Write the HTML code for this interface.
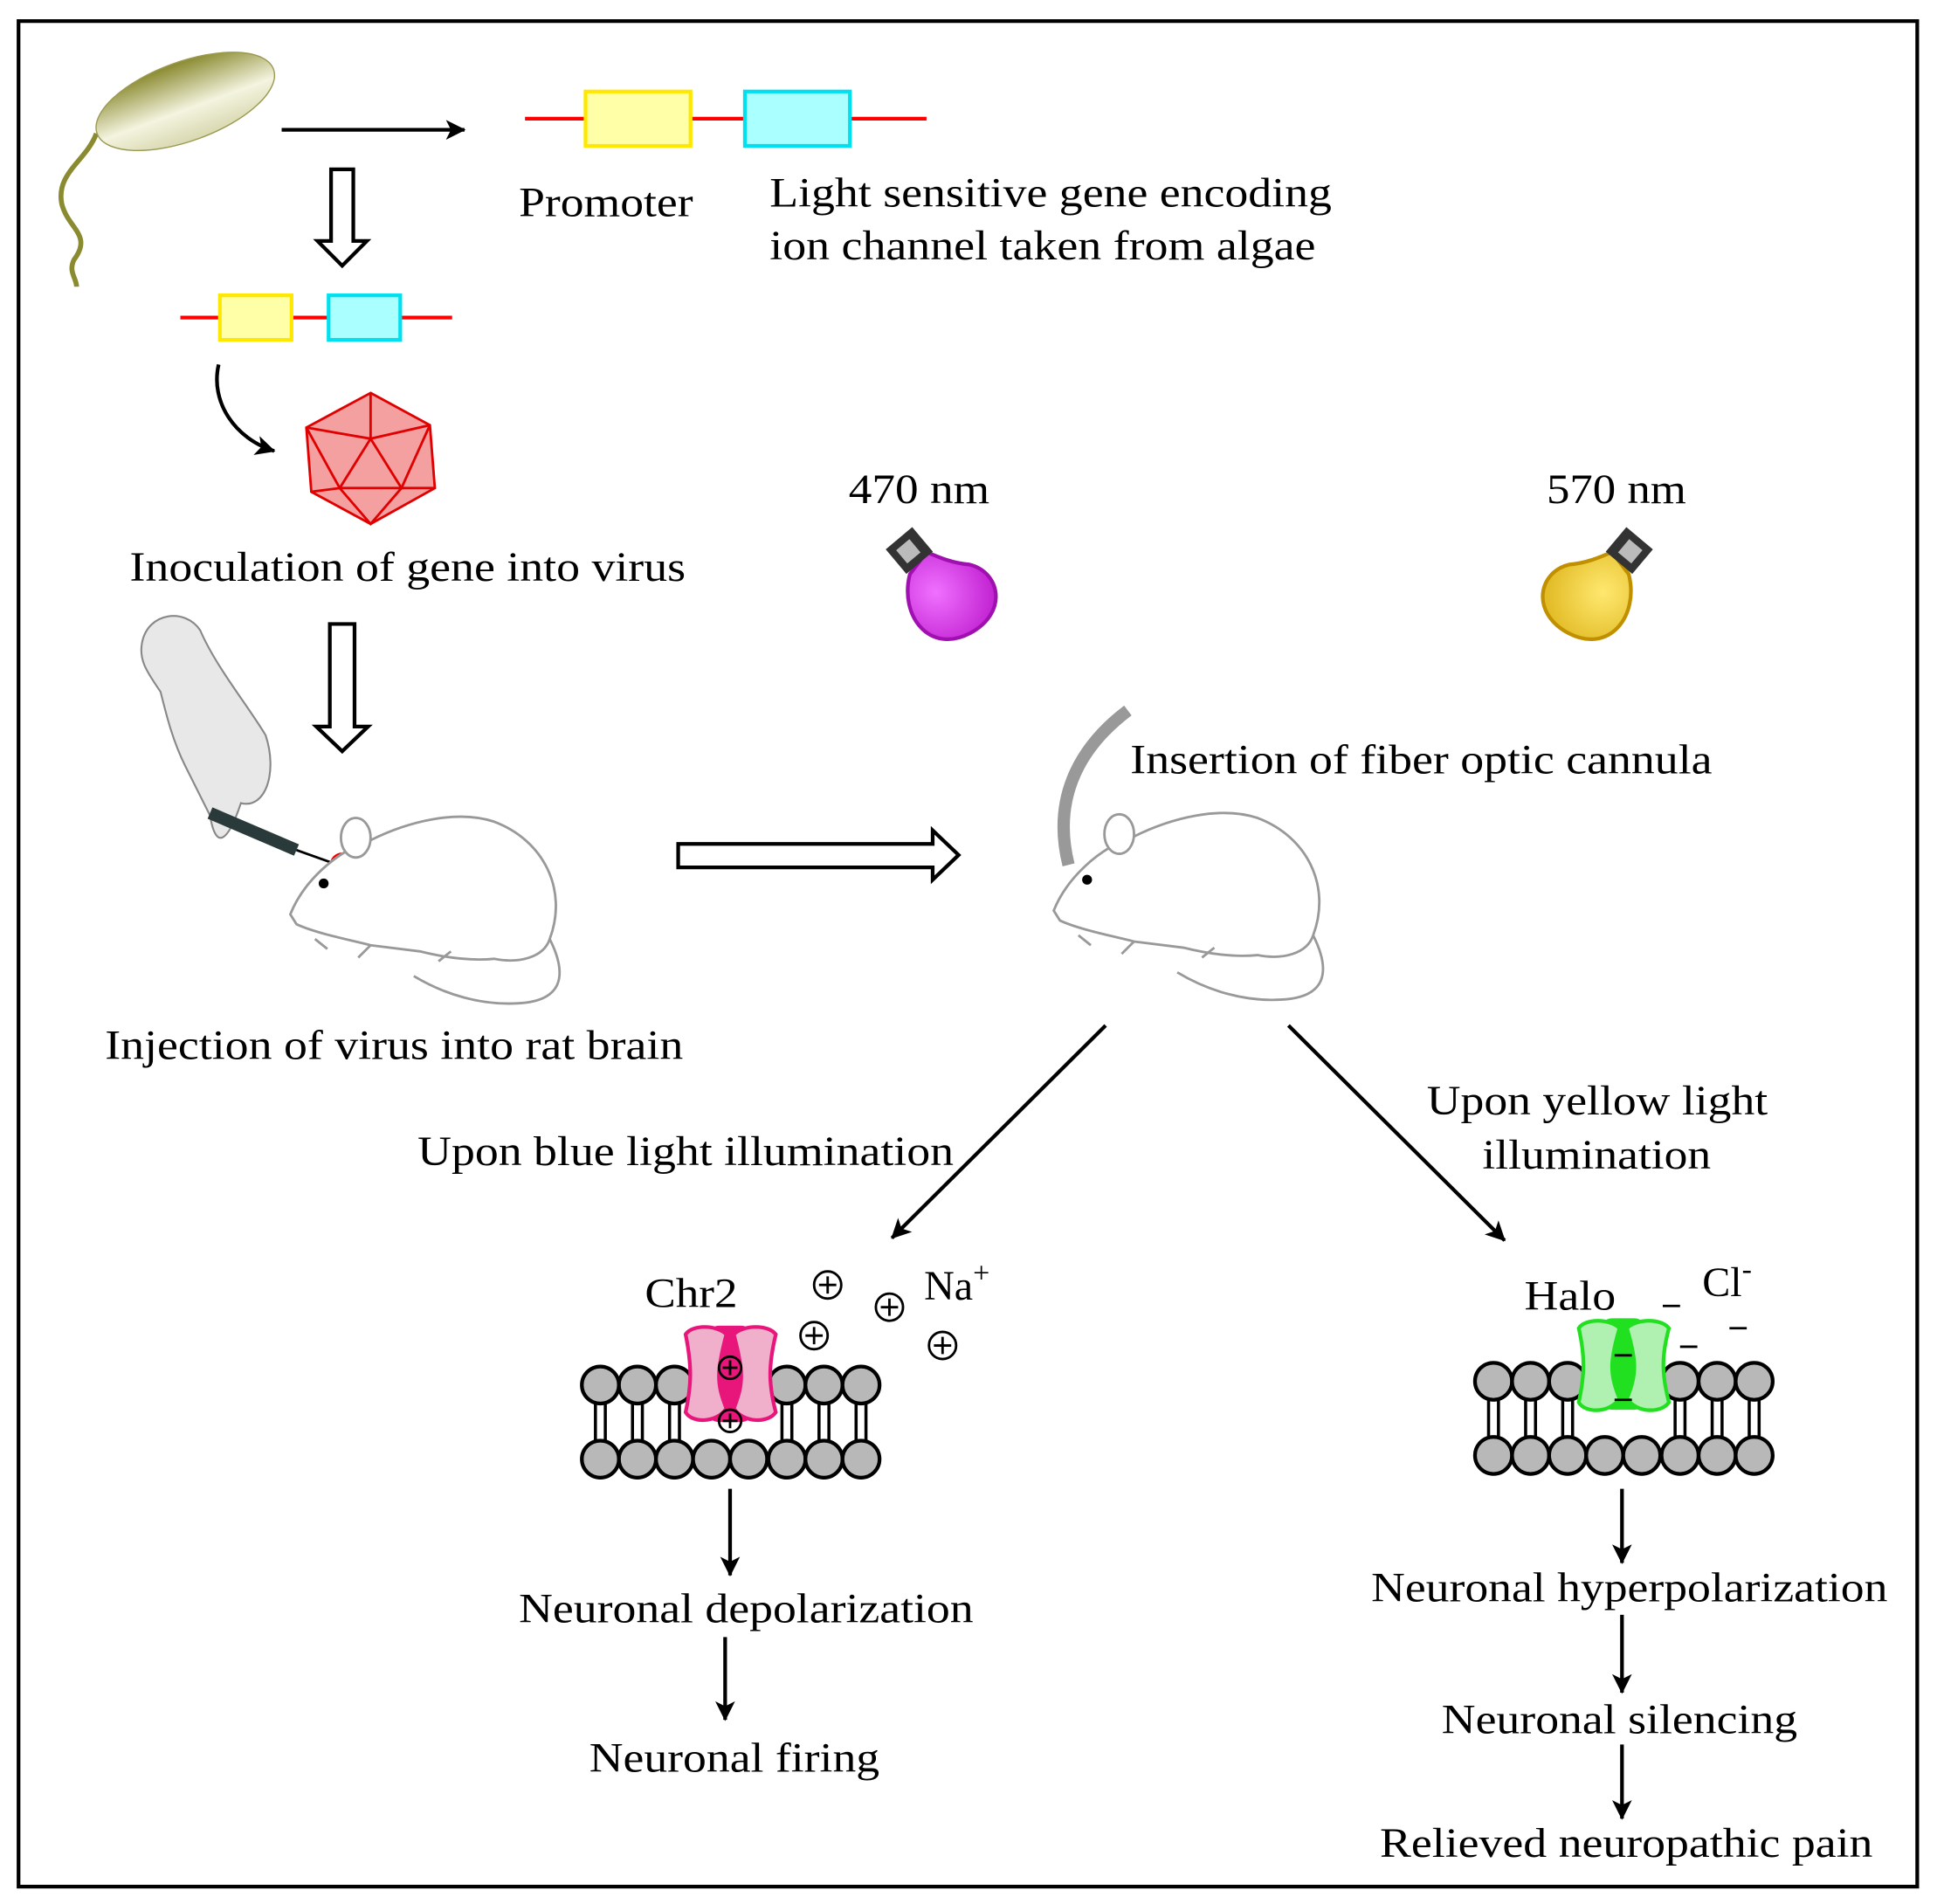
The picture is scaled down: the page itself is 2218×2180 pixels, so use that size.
<!DOCTYPE html>
<html><head><meta charset="utf-8"><style>
html,body{margin:0;padding:0;background:#fff}
svg{display:block}
text{font-family:"Liberation Serif",serif;font-size:34px;fill:#000}
</style></head><body>
<svg width="2218" height="2180" viewBox="0 0 1568 1541" xmlns="http://www.w3.org/2000/svg">
<defs>
<marker id="ah" markerWidth="16" markerHeight="16" refX="15" refY="8" orient="auto" markerUnits="userSpaceOnUse" viewBox="0 0 16 16">
<path d="M0,0 L16,8 L0,16 L4,8 Z" fill="#000"/></marker>
<linearGradient id="bac" x1="0" y1="0" x2="0" y2="1"><stop offset="0" stop-color="#8a8a30"/><stop offset="0.6" stop-color="#f4f4e0"/><stop offset="1" stop-color="#d8d8b0"/></linearGradient>
<radialGradient id="pb" cx="0.4" cy="0.4" r="0.7"><stop offset="0" stop-color="#f070ff"/><stop offset="1" stop-color="#c020d0"/></radialGradient>
<radialGradient id="yb" cx="0.4" cy="0.4" r="0.7"><stop offset="0" stop-color="#ffe870"/><stop offset="1" stop-color="#e0b820"/></radialGradient>
<g id="circ"><circle r="15" fill="#b8b8b8" stroke="#000" stroke-width="3"/></g>
<path id="bulb" d="M-12,-30 C-40,-10 -42,30 -5,38 C30,45 45,15 30,-5 C20,-15 15,-25 10,-35 Z"/>
</defs>
<rect x="15" y="17" width="1537" height="1510" fill="#fff" stroke="#000" stroke-width="3"/>

<!-- bacterium -->
<path d="M78,108 C70,130 45,140 50,165 C55,185 75,190 60,210 C55,220 62,225 62,232" fill="none" stroke="#8a8a30" stroke-width="4"/>
<ellipse cx="150" cy="82" rx="76" ry="32" transform="rotate(-20 150 82)" fill="url(#bac)" stroke="#9a9a50" stroke-width="1"/>
<line x1="228" y1="105" x2="376" y2="105" stroke="#000" stroke-width="3" marker-end="url(#ah)"/>

<!-- gene big -->
<line x1="425" y1="96" x2="750" y2="96" stroke="#f00" stroke-width="3"/>
<rect x="474" y="74" width="85" height="44" fill="#ffffa8" stroke="#ffe800" stroke-width="3"/>
<rect x="603" y="74" width="85" height="44" fill="#aaffff" stroke="#00e0f0" stroke-width="3"/>
<text x="420" y="175" textLength="141" lengthAdjust="spacingAndGlyphs">Promoter</text>
<text x="623" y="167" textLength="455" lengthAdjust="spacingAndGlyphs">Light sensitive gene encoding</text>
<text x="623" y="210" textLength="442" lengthAdjust="spacingAndGlyphs">ion channel taken from algae</text>

<!-- hollow down arrows -->
<path d="M268,137 H286 V195 H297 L277,215 L257,195 H268 Z" fill="#fff" stroke="#000" stroke-width="3"/>
<path d="M267,505 H287 V588 H298 L277,608 L256,588 H267 Z" fill="#fff" stroke="#000" stroke-width="3"/>

<!-- small gene -->
<line x1="146" y1="257" x2="366" y2="257" stroke="#f00" stroke-width="3"/>
<rect x="178" y="239" width="58" height="36" fill="#ffffa8" stroke="#ffe800" stroke-width="3"/>
<rect x="266" y="239" width="58" height="36" fill="#aaffff" stroke="#00e0f0" stroke-width="3"/>
<path d="M177,295 C170,325 190,355 222,365" fill="none" stroke="#000" stroke-width="3" marker-end="url(#ah)"/>

<!-- virus -->
<g stroke="#e00000" stroke-width="2" fill="#f5a0a0">
<polygon points="300,318 348,344 352,395 300,424 252,398 248,346"/>
<g fill="none"><polyline points="248,346 300,355 348,344"/><line x1="300" y1="318" x2="300" y2="355"/>
<polyline points="252,398 275,395 300,424 325,395 352,395"/><polygon points="300,355 275,395 325,395"/>
<line x1="248" y1="346" x2="275" y2="395"/><line x1="348" y1="344" x2="325" y2="395"/></g></g>
<text x="105" y="470" textLength="450" lengthAdjust="spacingAndGlyphs">Inoculation of gene into virus</text>

<!-- hand & syringe -->
<path d="M115,520 C120,495 150,492 162,510 C175,540 200,570 215,595 C225,625 215,655 195,650 C185,680 175,690 170,660 L150,620 C140,600 135,580 130,560 C120,545 112,535 115,520 Z" fill="#e8e8e8" stroke="#888" stroke-width="1.5"/>
<line x1="170" y1="658" x2="240" y2="688" stroke="#2a3a3a" stroke-width="10"/>
<line x1="240" y1="688" x2="268" y2="698" stroke="#000" stroke-width="2"/>
<circle cx="277" cy="700" r="10" fill="#e00" />

<!-- rat helper -->
<g id="rat" fill="#fff" stroke="#999" stroke-width="2">
<path d="M235,740 C245,715 270,690 300,680 C330,665 370,655 400,665 C440,680 460,720 445,760 C440,775 420,780 400,776 C380,778 360,775 340,770 L300,765 C280,760 255,755 240,748 Z"/>
<path d="M445,760 C460,790 455,810 420,812 C390,814 360,805 335,790" fill="none"/>
<ellipse cx="288" cy="678" rx="12" ry="16"/>
<path d="M255,760 L265,768 M300,765 L290,775 M365,770 L355,778" fill="none"/>
<circle cx="262" cy="715" r="4" fill="#000" stroke="none"/>
</g>
<text x="85" y="857" textLength="468" lengthAdjust="spacingAndGlyphs">Injection of virus into rat brain</text>

<path d="M549,683 H755 V672 L776,692 L755,712 V702 H549 Z" fill="#fff" stroke="#000" stroke-width="3"/>

<use href="#rat" x="618" y="-3"/>
<path d="M913,575 C880,600 850,640 865,700" fill="none" stroke="#999" stroke-width="10"/>
<text x="915" y="626" textLength="471" lengthAdjust="spacingAndGlyphs">Insertion of fiber optic cannula</text>

<!-- bulbs -->
<text x="687" y="407" textLength="114" lengthAdjust="spacingAndGlyphs">470 nm</text>
<text x="1252" y="407" textLength="113" lengthAdjust="spacingAndGlyphs">570 nm</text>
<g transform="translate(765,480) rotate(-40)"><use href="#bulb" fill="url(#pb)" stroke="#a010b0" stroke-width="3"/><rect x="-14" y="-58" width="28" height="26" fill="#333"/><rect x="-8" y="-52" width="14" height="14" fill="#bbb"/></g>
<g transform="translate(1290,480) rotate(40) scale(-1,1)"><use href="#bulb" fill="url(#yb)" stroke="#c09000" stroke-width="3"/><rect x="-14" y="-58" width="28" height="26" fill="#333"/><rect x="-8" y="-52" width="14" height="14" fill="#bbb"/></g>

<line x1="895" y1="830" x2="722" y2="1002" stroke="#000" stroke-width="3" marker-end="url(#ah)"/>
<line x1="1043" y1="830" x2="1218" y2="1004" stroke="#000" stroke-width="3" marker-end="url(#ah)"/>
<text x="338" y="943" textLength="434" lengthAdjust="spacingAndGlyphs">Upon blue light illumination</text>
<text x="1155" y="902" textLength="276" lengthAdjust="spacingAndGlyphs">Upon yellow light</text>
<text x="1200" y="946" textLength="185" lengthAdjust="spacingAndGlyphs">illumination</text>

<!-- left membrane -->
<g stroke="#000" stroke-width="2.5">
<line x1="482" y1="1136" x2="482" y2="1166"/><line x1="490" y1="1136" x2="490" y2="1166"/>
<line x1="512" y1="1136" x2="512" y2="1166"/><line x1="520" y1="1136" x2="520" y2="1166"/>
<line x1="542" y1="1136" x2="542" y2="1166"/><line x1="550" y1="1136" x2="550" y2="1166"/>
<line x1="633" y1="1136" x2="633" y2="1166"/><line x1="641" y1="1136" x2="641" y2="1166"/>
<line x1="663" y1="1136" x2="663" y2="1166"/><line x1="671" y1="1136" x2="671" y2="1166"/>
<line x1="693" y1="1136" x2="693" y2="1166"/><line x1="701" y1="1136" x2="701" y2="1166"/>
</g>
<g><use href="#circ" x="486" y="1121"/><use href="#circ" x="516" y="1121"/><use href="#circ" x="546" y="1121"/><use href="#circ" x="576" y="1121"/><use href="#circ" x="606" y="1121"/><use href="#circ" x="637" y="1121"/><use href="#circ" x="667" y="1121"/><use href="#circ" x="697" y="1121"/>
<use href="#circ" x="486" y="1181"/><use href="#circ" x="516" y="1181"/><use href="#circ" x="546" y="1181"/><use href="#circ" x="576" y="1181"/><use href="#circ" x="606" y="1181"/><use href="#circ" x="637" y="1181"/><use href="#circ" x="667" y="1181"/><use href="#circ" x="697" y="1181"/></g>
<rect x="572" y="1073" width="38" height="78" rx="10" fill="#e8157a"/>
<path d="M555,1080 C560,1072 580,1072 588,1080 C580,1110 580,1120 588,1140 C580,1152 560,1152 555,1143 C560,1120 560,1105 555,1080 Z" fill="#f0b0cc" stroke="#e8157a" stroke-width="3"/>
<path d="M628,1080 C622,1072 602,1072 594,1080 C602,1110 602,1120 594,1140 C602,1152 622,1152 628,1143 C622,1120 622,1105 628,1080 Z" fill="#f0b0cc" stroke="#e8157a" stroke-width="3"/>
<g fill="none" stroke="#000" stroke-width="2">
<circle cx="591" cy="1107" r="9"/><path d="M585,1107h12M591,1101v12"/>
<circle cx="591" cy="1150" r="9"/><path d="M585,1150h12M591,1144v12"/>
<circle cx="670" cy="1040" r="11"/><path d="M663,1040h14M670,1033v14"/>
<circle cx="720" cy="1058" r="11"/><path d="M713,1058h14M720,1051v14"/>
<circle cx="659" cy="1081" r="11"/><path d="M652,1081h14M659,1074v14"/>
<circle cx="763" cy="1089" r="11"/><path d="M756,1089h14M763,1082v14"/>
</g>
<text x="522" y="1058" textLength="75" lengthAdjust="spacingAndGlyphs">Chr2</text>
<text x="748" y="1052">Na<tspan font-size="24" dy="-14">+</tspan></text>
<line x1="591" y1="1205" x2="591" y2="1275" stroke="#000" stroke-width="3" marker-end="url(#ah)"/>
<text x="420" y="1313" textLength="368" lengthAdjust="spacingAndGlyphs">Neuronal depolarization</text>
<line x1="587" y1="1325" x2="587" y2="1392" stroke="#000" stroke-width="3" marker-end="url(#ah)"/>
<text x="477" y="1434" textLength="235" lengthAdjust="spacingAndGlyphs">Neuronal firing</text>

<!-- right membrane -->
<g transform="translate(723,-3)">
<g stroke="#000" stroke-width="2.5">
<line x1="482" y1="1136" x2="482" y2="1166"/><line x1="490" y1="1136" x2="490" y2="1166"/>
<line x1="512" y1="1136" x2="512" y2="1166"/><line x1="520" y1="1136" x2="520" y2="1166"/>
<line x1="542" y1="1136" x2="542" y2="1166"/><line x1="550" y1="1136" x2="550" y2="1166"/>
<line x1="633" y1="1136" x2="633" y2="1166"/><line x1="641" y1="1136" x2="641" y2="1166"/>
<line x1="663" y1="1136" x2="663" y2="1166"/><line x1="671" y1="1136" x2="671" y2="1166"/>
<line x1="693" y1="1136" x2="693" y2="1166"/><line x1="701" y1="1136" x2="701" y2="1166"/>
</g>
<use href="#circ" x="486" y="1121"/><use href="#circ" x="516" y="1121"/><use href="#circ" x="546" y="1121"/><use href="#circ" x="576" y="1121"/><use href="#circ" x="606" y="1121"/><use href="#circ" x="637" y="1121"/><use href="#circ" x="667" y="1121"/><use href="#circ" x="697" y="1121"/>
<use href="#circ" x="486" y="1181"/><use href="#circ" x="516" y="1181"/><use href="#circ" x="546" y="1181"/><use href="#circ" x="576" y="1181"/><use href="#circ" x="606" y="1181"/><use href="#circ" x="637" y="1181"/><use href="#circ" x="667" y="1181"/><use href="#circ" x="697" y="1181"/>
<rect x="572" y="1070" width="38" height="74" rx="10" fill="#20e020"/>
<path d="M555,1078 C560,1070 580,1070 588,1078 C580,1105 580,1115 588,1135 C580,1147 560,1147 555,1138 C560,1115 560,1100 555,1078 Z" fill="#b0f0b0" stroke="#20e020" stroke-width="3"/>
<path d="M628,1078 C622,1070 602,1070 594,1078 C602,1105 602,1115 594,1135 C602,1147 622,1147 628,1138 C622,1115 622,1100 628,1078 Z" fill="#b0f0b0" stroke="#20e020" stroke-width="3"/>
<path d="M584,1100h14M584,1136h14" stroke="#000" stroke-width="2"/>
</g>
<text x="1234" y="1060" textLength="74" lengthAdjust="spacingAndGlyphs">Halo</text>
<text x="1378" y="1049">Cl<tspan font-size="24" dy="-14">-</tspan></text>
<path d="M1346,1057h14M1360,1090h14M1400,1075h14" stroke="#000" stroke-width="2"/>
<line x1="1313" y1="1205" x2="1313" y2="1265" stroke="#000" stroke-width="3" marker-end="url(#ah)"/>
<text x="1110" y="1296" textLength="418" lengthAdjust="spacingAndGlyphs">Neuronal hyperpolarization</text>
<line x1="1313" y1="1307" x2="1313" y2="1370" stroke="#000" stroke-width="3" marker-end="url(#ah)"/>
<text x="1167" y="1403" textLength="288" lengthAdjust="spacingAndGlyphs">Neuronal silencing</text>
<line x1="1313" y1="1412" x2="1313" y2="1472" stroke="#000" stroke-width="3" marker-end="url(#ah)"/>
<text x="1117" y="1503" textLength="399" lengthAdjust="spacingAndGlyphs">Relieved neuropathic pain</text>
</svg>
</body></html>
